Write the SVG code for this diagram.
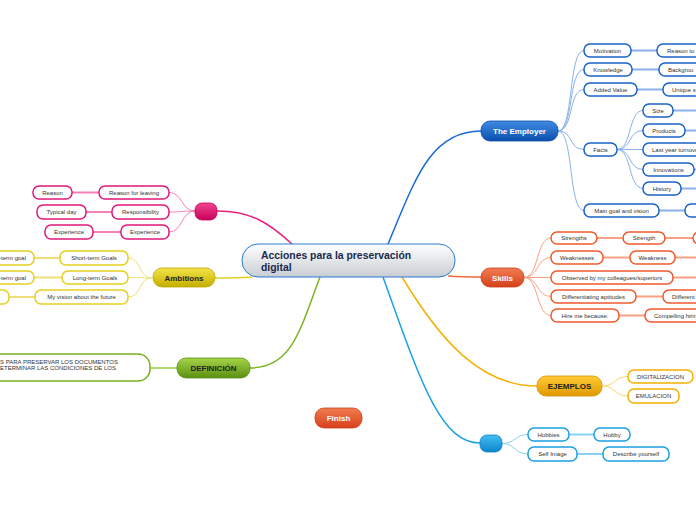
<svg xmlns="http://www.w3.org/2000/svg" width="696" height="520" viewBox="0 0 696 520">
<defs>
<linearGradient id="gCenter" x1="0" y1="0" x2="0" y2="1"><stop offset="0" stop-color="#ffffff"/><stop offset="1" stop-color="#c9cdd3"/></linearGradient>
<linearGradient id="gBlue" x1="0" y1="0" x2="0" y2="1"><stop offset="0" stop-color="#3f8be4"/><stop offset="1" stop-color="#0b4fae"/></linearGradient>
<linearGradient id="gRed" x1="0" y1="0" x2="0" y2="1"><stop offset="0" stop-color="#f27d52"/><stop offset="1" stop-color="#d6401a"/></linearGradient>
<linearGradient id="gPink" x1="0" y1="0" x2="0" y2="1"><stop offset="0" stop-color="#f2448f"/><stop offset="1" stop-color="#c8005a"/></linearGradient>
<linearGradient id="gYellow" x1="0" y1="0" x2="0" y2="1"><stop offset="0" stop-color="#f2e448"/><stop offset="1" stop-color="#c6ae00"/></linearGradient>
<linearGradient id="gGreen" x1="0" y1="0" x2="0" y2="1"><stop offset="0" stop-color="#a6d448"/><stop offset="1" stop-color="#5a9010"/></linearGradient>
<linearGradient id="gGold" x1="0" y1="0" x2="0" y2="1"><stop offset="0" stop-color="#ffcc38"/><stop offset="1" stop-color="#e09800"/></linearGradient>
<linearGradient id="gSky" x1="0" y1="0" x2="0" y2="1"><stop offset="0" stop-color="#46bcf2"/><stop offset="1" stop-color="#0a86cc"/></linearGradient>
</defs>
<style>
text{font-family:"Liberation Sans",Arial,sans-serif}
.sm{font-size:6px;fill:#333;text-anchor:middle}
.sms{font-size:6px;fill:#333}
.sme{font-size:6px;fill:#333;text-anchor:end}
.l1{font-size:8px;font-weight:bold;text-anchor:middle}
.w{fill:#fff}
.d{fill:#222}
.box{fill:#fff;stroke-width:1.5}
.bB{stroke:#1a62c8}
.bR{stroke:#ee5a2c}
.bP{stroke:#e0187a}
.bY{stroke:#e6cf1c}
.bG{stroke:#7ab020}
.bO{stroke:#f5b000}
.bS{stroke:#1ba1e2}
.c{fill:none}
.cB{stroke:#8ab2ec;stroke-width:1}
.cR{stroke:#f7a284;stroke-width:1}
.cP{stroke:#f282b4;stroke-width:1}
.cY{stroke:#ede07a;stroke-width:1}
.cG{stroke:#b2d874;stroke-width:1}
.cO{stroke:#ffd468;stroke-width:1}
.cS{stroke:#86d2f4;stroke-width:1}
.h{stroke-width:2}
</style>

<g id="connectors">
<path class="c" stroke="#1a6ad8" stroke-width="1.5" d="M388,244 C415,180 430,131 481,131"/>
<path class="c" stroke="#e8207c" stroke-width="1.5" d="M292,244 C268,222 250,211 217,211"/>
<path class="c" stroke="#e2d020" stroke-width="1.5" d="M252,277 C238,278 228,278 215,278"/>
<path class="c" stroke="#7ab420" stroke-width="1.5" d="M320,277 C300,330 292,368 250,368"/>
<path class="c" stroke="#f06a3a" stroke-width="1.5" d="M448,276 C462,277 470,277 481,277"/>
<path class="c" stroke="#f5b000" stroke-width="1.5" d="M402,277 C440,340 480,386 537,386"/>
<path class="c" stroke="#1ba1e2" stroke-width="1.5" d="M383,277 C420,380 440,443 480,443"/>
<path class="c cB" d="M558,131 C574,131 568,50.5 584,50.5"/>
<path class="c cB" d="M558,131 C574,131 568,69.5 584,69.5"/>
<path class="c cB" d="M558,131 C574,131 568,89.5 584,89.5"/>
<path class="c cB" d="M558,131 C574,131 568,149.5 584,149.5"/>
<path class="c cB" d="M558,131 C574,131 568,210.5 584,210.5"/>
<path class="c cB" d="M617,149.5 C632,149.5 628,110.5 643,110.5"/>
<path class="c cB" d="M617,149.5 C632,149.5 628,130.5 643,130.5"/>
<path class="c cB" d="M617,149.5 L643,149.5"/>
<path class="c cB" d="M617,149.5 C632,149.5 628,169.5 643,169.5"/>
<path class="c cB" d="M617,149.5 C632,149.5 628,188.5 643,188.5"/>
<path class="c cB h" d="M631,50.5 L657,50.5 M632,69.5 L659,69.5 M637,89.5 L663,89.5 M659,210.5 L685,210.5 M673,110.5 L700,110.5 M685,130.5 L700,130.5 M694,169.5 L700,169.5 M681,188.5 L700,188.5"/>
<path class="c cR" d="M524,277.5 C539,277.5 536,238 551,238"/>
<path class="c cR" d="M524,277.5 C539,277.5 536,257.5 551,257.5"/>
<path class="c cR" d="M524,277.5 L551,277.5"/>
<path class="c cR" d="M524,277.5 C539,277.5 536,296.5 551,296.5"/>
<path class="c cR" d="M524,277.5 C539,277.5 536,315.5 551,315.5"/>
<path class="c cR h" d="M597,238 L623,238 M665,238 L693,238 M603,257.5 L630,257.5 M675,257.5 L700,257.5 M673,277.5 L700,277.5 M636,296.5 L663,296.5 M619,315.5 L645,315.5"/>
<path class="c cP" d="M195,211 C181,211 183,192.5 169,192.5"/>
<path class="c cP" d="M195,211 C181,211 183,212 169,212"/>
<path class="c cP" d="M195,211 C181,211 183,232 169,232"/>
<path class="c cP h" d="M99,192.5 L72,192.5 M112,212 L86,212 M121,232 L93,232"/>
<path class="c cY" d="M152,278 C138,278 142,258 128,258"/>
<path class="c cY" d="M152,278 C138,278 142,277.5 128,277.5"/>
<path class="c cY" d="M152,278 C138,278 142,297 128,297"/>
<path class="c cY h" d="M60,258 L34,258 M62,277.5 L34,277.5 M35,297 L9,297"/>
<path class="c cG h" d="M177,368 L150,368"/>
<path class="c cO" d="M602,386 C616,386 614,376.5 628,376.5"/>
<path class="c cO" d="M602,386 C616,386 614,396 628,396"/>
<path class="c cS" d="M502,443.5 C516,443.5 514,434.5 528,434.5"/>
<path class="c cS" d="M502,443.5 C516,443.5 514,454 528,454"/>
<path class="c cS h" d="M569,434.5 L594,434.5 M577,454 L603,454"/>
</g>

<g id="center">
<rect x="242" y="244" width="213" height="33" rx="16" fill="url(#gCenter)" stroke="#2a7ad0" stroke-width="1"/>
<text x="261" y="258.5" font-size="10.4" font-weight="bold" fill="#1a2a4e">Acciones para la preservación</text>
<text x="261" y="270.5" font-size="10.4" font-weight="bold" fill="#1a2a4e">digital</text>
</g>

<g id="employer">
<rect x="481" y="121" width="77" height="20" rx="9" fill="url(#gBlue)" stroke="#0d4fa8" stroke-width="0.8"/>
<text class="l1 w" x="519.5" y="134">The Employer</text>
</g>
<g id="motivation"><rect class="box bB" x="584" y="44" width="47" height="13" rx="6"/><text class="sm" x="607.5" y="52.5">Motivation</text></g>
<g id="reason-to"><rect class="box bB" x="657" y="44" width="60" height="13" rx="6"/><text class="sms" x="667" y="52.5">Reason to</text></g>
<g id="knowledge"><rect class="box bB" x="584" y="63" width="48" height="13" rx="6"/><text class="sm" x="608" y="71.5">Knowledge</text></g>
<g id="background"><rect class="box bB" x="659" y="63" width="60" height="13" rx="6"/><text class="sms" x="668" y="71.5">Backgrou</text></g>
<g id="added-value"><rect class="box bB" x="584" y="83" width="53" height="13" rx="6"/><text class="sm" x="610.5" y="91.5">Added Value</text></g>
<g id="unique"><rect class="box bB" x="663" y="83" width="60" height="13" rx="6"/><text class="sms" x="672" y="91.5">Unique s</text></g>
<g id="facts"><rect class="box bB" x="584" y="143" width="33" height="13" rx="6"/><text class="sm" x="600.5" y="151.5">Facts</text></g>
<g id="size"><rect class="box bB" x="643" y="104" width="30" height="13" rx="6"/><text class="sm" x="658" y="112.5">Size</text></g>
<g id="products"><rect class="box bB" x="643" y="124" width="42" height="13" rx="6"/><text class="sm" x="664" y="132.5">Products</text></g>
<g id="turnover"><rect class="box bB" x="643" y="143" width="70" height="13" rx="6"/><text class="sms" x="652" y="151.5">Last year turnover</text></g>
<g id="innovations"><rect class="box bB" x="643" y="163" width="51" height="13" rx="6"/><text class="sm" x="668.5" y="171.5">Innovations</text></g>
<g id="history"><rect class="box bB" x="643" y="182" width="38" height="13" rx="6"/><text class="sm" x="662" y="190.5">History</text></g>
<g id="main-goal"><rect class="box bB" x="584" y="204" width="75" height="13" rx="6"/><text class="sm" x="621.5" y="212.5">Main goal and vision</text></g>
<g id="goal-child"><rect class="box bB" x="685" y="204" width="40" height="13" rx="6"/></g>

<g id="skills">
<rect x="481" y="268" width="43" height="19" rx="9" fill="url(#gRed)" stroke="#c8401a" stroke-width="0.8"/>
<text class="l1 w" x="502.5" y="280.5">Skills</text>
</g>
<g id="strengths"><rect class="box bR" x="551" y="232" width="46" height="12" rx="6"/><text class="sm" x="574" y="240">Strengths</text></g>
<g id="strength"><rect class="box bR" x="623" y="232" width="42" height="12" rx="6"/><text class="sm" x="644" y="240">Strength</text></g>
<g id="strength-child"><rect class="box bR" x="693" y="232" width="30" height="12" rx="6"/></g>
<g id="weaknesses"><rect class="box bR" x="551" y="251" width="52" height="13" rx="6"/><text class="sm" x="577" y="259.5">Weaknesses</text></g>
<g id="weakness"><rect class="box bR" x="630" y="251" width="45" height="13" rx="6"/><text class="sm" x="652.5" y="259.5">Weakness</text></g>
<g id="observed"><rect class="box bR" x="551" y="271" width="122" height="13" rx="6"/><text class="sm" x="612" y="279.5">Observed by my colleagues/superiors</text></g>
<g id="differentiating"><rect class="box bR" x="551" y="290" width="85" height="13" rx="6"/><text class="sm" x="593.5" y="298.5">Differentiating aptitudes</text></g>
<g id="different"><rect class="box bR" x="663" y="290" width="70" height="13" rx="6"/><text class="sms" x="672" y="298.5">Different</text></g>
<g id="hire"><rect class="box bR" x="551" y="309" width="68" height="13" rx="6"/><text class="sm" x="585" y="317.5">Hire me because:</text></g>
<g id="compelling"><rect class="box bR" x="645" y="309" width="80" height="13" rx="6"/><text class="sms" x="654" y="317.5">Compelling hiring</text></g>

<g id="pink">
<rect x="195" y="203" width="22" height="17" rx="7" fill="url(#gPink)" stroke="#c0005a" stroke-width="0.8"/>
</g>
<g id="reason-leaving"><rect class="box bP" x="99" y="186" width="70" height="13" rx="6"/><text class="sm" x="134" y="194.5">Reason for leaving</text></g>
<g id="reason"><rect class="box bP" x="33" y="186" width="39" height="13" rx="6"/><text class="sm" x="52.5" y="194.5">Reason</text></g>
<g id="responsibility"><rect class="box bP" x="112" y="205" width="57" height="14" rx="6"/><text class="sm" x="140.5" y="214">Responsibility</text></g>
<g id="typical-day"><rect class="box bP" x="37" y="205" width="49" height="14" rx="6"/><text class="sm" x="61.5" y="214">Typical day</text></g>
<g id="experience1"><rect class="box bP" x="121" y="225" width="48" height="14" rx="6"/><text class="sm" x="145" y="234">Experience</text></g>
<g id="experience2"><rect class="box bP" x="45" y="225" width="48" height="14" rx="6"/><text class="sm" x="69" y="234">Experience</text></g>

<g id="ambitions">
<rect x="153" y="268" width="62" height="19" rx="9" fill="url(#gYellow)" stroke="#bca800" stroke-width="0.8"/>
<text class="l1 d" x="184" y="280.5">Ambitions</text>
</g>
<g id="short-goals"><rect class="box bY" x="60" y="251" width="68" height="14" rx="6"/><text class="sm" x="94" y="260">Short-term Goals</text></g>
<g id="short-goal"><rect class="box bY" x="-50" y="251" width="84" height="14" rx="6"/><text class="sme" x="26" y="260">Short-term goal</text></g>
<g id="long-goals"><rect class="box bY" x="62" y="271" width="66" height="13" rx="6"/><text class="sm" x="95" y="279.5">Long-term Goals</text></g>
<g id="long-goal"><rect class="box bY" x="-50" y="271" width="84" height="13" rx="6"/><text class="sme" x="26" y="279.5">Long-term goal</text></g>
<g id="vision"><rect class="box bY" x="35" y="290" width="93" height="14" rx="6"/><text class="sm" x="81.5" y="299">My vision about the future</text></g>
<g id="vision-child"><rect class="box bY" x="-50" y="290" width="59" height="14" rx="6"/></g>

<g id="definicion">
<rect x="177" y="358" width="73" height="20" rx="9" fill="url(#gGreen)" stroke="#5a9010" stroke-width="0.8"/>
<text class="l1 d" x="213.5" y="371">DEFINICIÓN</text>
</g>
<g id="definicion-text">
<rect class="box bG" x="-30" y="354" width="180" height="27" rx="12"/>
<text class="sms" x="0" y="363.5" font-size="5.2">S PARA PRESERVAR LOS DOCUMENTOS</text>
<text class="sms" x="0" y="369.5" font-size="5.2">ETERMINAR LAS CONDICIONES DE LOS</text>
</g>

<g id="ejemplos">
<rect x="537" y="376" width="65" height="20" rx="9" fill="url(#gGold)" stroke="#d89000" stroke-width="0.8"/>
<text class="l1 d" x="569.5" y="389">EJEMPLOS</text>
</g>
<g id="digitalizacion"><rect class="box bO" x="628" y="370" width="65" height="13" rx="6"/><text class="sm" x="660.5" y="378.5">DIGITALIZACION</text></g>
<g id="emulacion"><rect class="box bO" x="628" y="389" width="51" height="14" rx="6"/><text class="sm" x="653.5" y="398">EMULACION</text></g>

<g id="sky">
<rect x="480" y="435" width="22" height="17" rx="7" fill="url(#gSky)" stroke="#0a80c0" stroke-width="0.8"/>
</g>
<g id="hobbies"><rect class="box bS" x="528" y="428" width="41" height="13" rx="6"/><text class="sm" x="548.5" y="436.5">Hobbies</text></g>
<g id="hobby"><rect class="box bS" x="594" y="428" width="36" height="13" rx="6"/><text class="sm" x="612" y="436.5">Hobby</text></g>
<g id="self-image"><rect class="box bS" x="528" y="447" width="49" height="14" rx="6"/><text class="sm" x="552.5" y="456">Self Image</text></g>
<g id="describe"><rect class="box bS" x="603" y="447" width="66" height="14" rx="6"/><text class="sm" x="636" y="456">Describe yourself</text></g>

<g id="finish">
<rect x="315" y="408" width="47" height="20" rx="9" fill="url(#gRed)" stroke="#c8401a" stroke-width="0.8"/>
<text class="l1 w" x="338.5" y="421">Finish</text>
</g>
</svg>
